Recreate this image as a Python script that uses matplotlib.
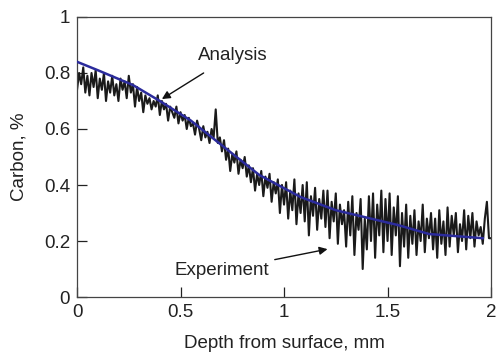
import numpy as np
import matplotlib
matplotlib.use("Agg")
import matplotlib.pyplot as plt

plt.rcParams['font.family'] = ['Liberation Sans', 'DejaVu Sans']

# Experiment (noisy measured carbon), x step 0.01 from 0 to 2
exp_y = [
    0.74, 0.80, 0.76, 0.82, 0.73, 0.79, 0.72, 0.80, 0.75, 0.81,
    0.71, 0.78, 0.74, 0.80, 0.70, 0.77, 0.73, 0.79, 0.72, 0.76,
    0.70, 0.78, 0.74, 0.77, 0.71, 0.79, 0.73, 0.76, 0.68, 0.75,
    0.70, 0.73, 0.66, 0.72, 0.69, 0.71, 0.67, 0.70, 0.68, 0.72,
    0.65, 0.70, 0.67, 0.69, 0.63, 0.68, 0.66, 0.64, 0.68, 0.62,
    0.66, 0.63, 0.65, 0.60, 0.64, 0.61, 0.62, 0.58, 0.63, 0.60,
    0.56, 0.61, 0.57, 0.59, 0.55, 0.60, 0.57, 0.67, 0.55, 0.57,
    0.52, 0.56, 0.49, 0.53, 0.45, 0.51, 0.48, 0.52, 0.44, 0.49,
    0.46, 0.50, 0.43, 0.47, 0.41, 0.46, 0.38, 0.44, 0.40, 0.45,
    0.36, 0.43, 0.39, 0.44, 0.34, 0.41, 0.37, 0.42, 0.30, 0.40,
    0.33, 0.41, 0.28, 0.38, 0.31, 0.42, 0.26, 0.37, 0.30, 0.40,
    0.27, 0.41, 0.22, 0.36, 0.29, 0.39, 0.24, 0.35, 0.28, 0.38,
    0.25, 0.38, 0.21, 0.34, 0.27, 0.37, 0.19, 0.33, 0.26, 0.31,
    0.18, 0.34, 0.22, 0.36, 0.15, 0.30, 0.24, 0.35, 0.10, 0.28,
    0.17, 0.36, 0.20, 0.37, 0.14, 0.33, 0.22, 0.38, 0.16, 0.35,
    0.20, 0.37, 0.15, 0.32, 0.22, 0.36, 0.11, 0.30, 0.18, 0.33,
    0.14, 0.29, 0.19, 0.31, 0.15, 0.27, 0.20, 0.33, 0.16, 0.28,
    0.21, 0.30, 0.17, 0.28, 0.14, 0.31, 0.19, 0.27, 0.15, 0.32,
    0.18, 0.29, 0.22, 0.30, 0.16, 0.26, 0.20, 0.31, 0.17, 0.29,
    0.21, 0.30, 0.18, 0.27, 0.22, 0.25, 0.19, 0.28, 0.34, 0.21,
    0.21,
]
exp_x = np.arange(len(exp_y)) * 0.01

# Analysis (model) curve
ana_x = [0.0, 0.10, 0.27, 0.40, 0.55, 0.66, 0.88, 1.08, 1.25, 1.55, 1.70, 1.96]
ana_y = [0.84, 0.81, 0.757, 0.70, 0.63, 0.565, 0.436, 0.357, 0.31, 0.257, 0.225, 0.21]

x_ticks = [0, 0.5, 1, 1.5, 2]
x_tick_labels = ["0", "0.5", "1", "1.5", "2"]
y_ticks = [0, 0.2, 0.4, 0.6, 0.8, 1]
y_tick_labels = ["0", "0.2", "0.4", "0.6", "0.8", "1"]

FS = 13.5
fig = plt.figure(figsize=(4.97, 3.54), dpi=100)
ax = fig.add_axes([0.155, 0.161, 0.833, 0.791])

ax.plot(exp_x, exp_y, color='#1a1a1a', lw=1.5, zorder=2)
ax.plot(ana_x, ana_y, color='#2b2b9c', lw=1.8, zorder=3)

ax.set_xlim(0, 2)
ax.set_ylim(0, 1)
ax.set_xticks(x_ticks)
ax.set_xticklabels(x_tick_labels)
ax.set_yticks(y_ticks)
ax.set_yticklabels(y_tick_labels)
ax.tick_params(direction='in', length=7, width=0.9, labelsize=FS, pad=5,
               colors='#222222', top=False, right=False)
for s in ax.spines.values():
    s.set_color('#444444')
    s.set_linewidth(0.9)

ax.set_xlabel("Depth from surface, mm", fontsize=FS, color='#222222', labelpad=10)
ax.set_ylabel("Carbon, %", fontsize=FS, color='#222222', labelpad=12)

ax.annotate("Analysis", xy=(0.41, 0.707), xytext=(0.75, 0.864),
            fontsize=FS, ha='center', va='center', color='#222222',
            arrowprops=dict(arrowstyle='-|>', color='#111111', lw=1.0,
                            shrinkA=9, shrinkB=0, mutation_scale=12))
ax.annotate("Experiment", xy=(1.21, 0.171), xytext=(0.70, 0.096),
            fontsize=FS, ha='center', va='center', color='#222222',
            arrowprops=dict(arrowstyle='-|>', color='#111111', lw=1.0,
                            shrinkA=2, shrinkB=0, mutation_scale=12))

fig.savefig("out.png", dpi=100)
